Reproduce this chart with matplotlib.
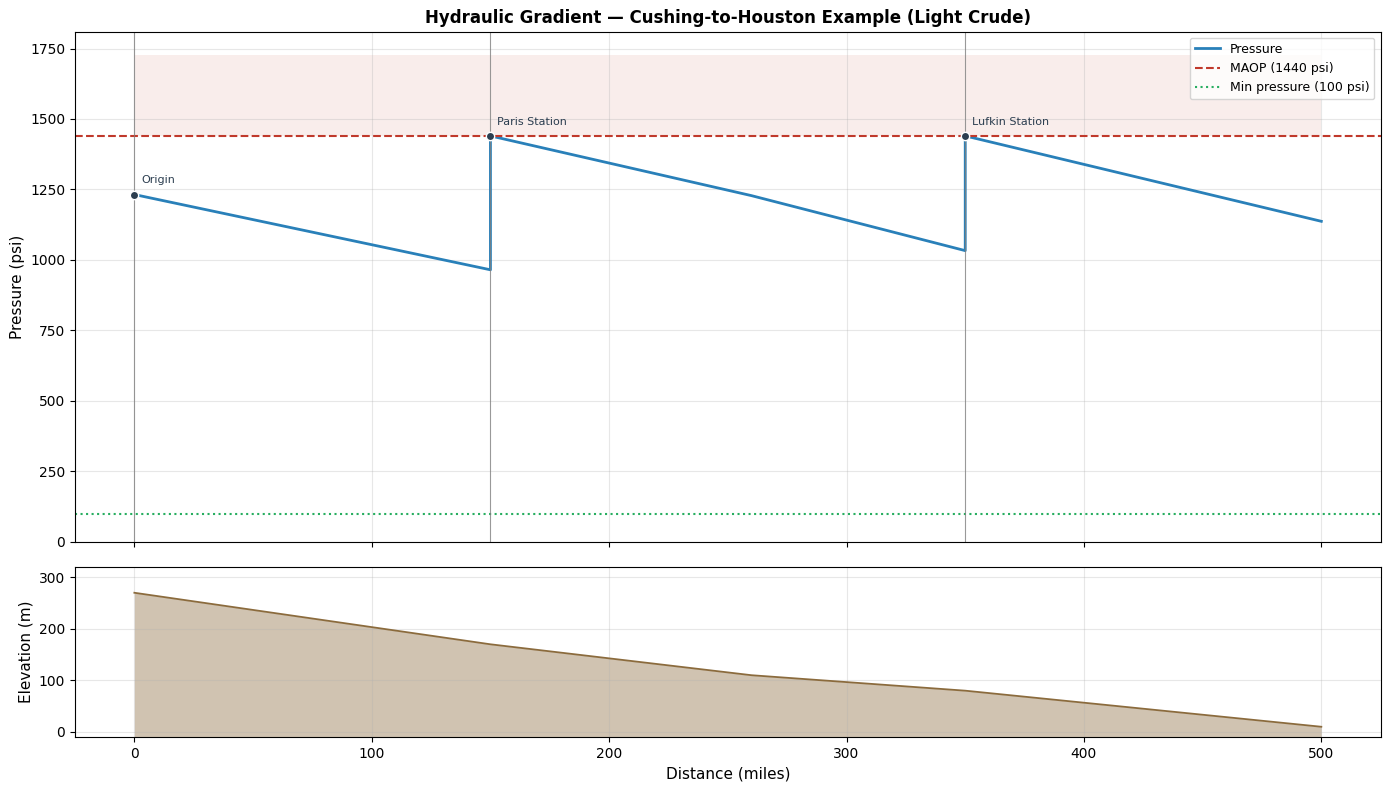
import matplotlib.pyplot as plt
import numpy as np

dist = [0, 150, 150, 260, 350, 350, 500]
pres = [1232, 965, 1440, 1228, 1033, 1440, 1137]
elev_x = [0, 150, 260, 350, 500]
elev = [270, 170, 110, 80, 10]
stations = ["Origin", "Paris Station", "Lufkin Station"]
st_x = [0, 150, 350]
st_p = [1232, 1440, 1440]
maop = 1440
minp = 100

fig, (ax, ax2) = plt.subplots(2, 1, figsize=(13.89, 7.9), dpi=100, sharex=True,
                              gridspec_kw={'height_ratios': [3, 1]})
ax.fill_between([0, 500], maop, maop * 1.2, color='#c0392b', alpha=0.09, lw=0)
ax.plot(dist, pres, color='#2980b9', lw=2, label='Pressure')
ax.axhline(maop, color='#c0392b', ls='--', lw=1.5, label='MAOP (1440 psi)')
ax.axhline(minp, color='#27ae60', ls=':', lw=1.5, label='Min pressure (100 psi)')
for name, x, p in zip(stations, st_x, st_p):
    ax.axvline(x, color='gray', lw=0.8, alpha=0.8)
    ax.plot(x, p, 'o', color='#2c3e50', ms=6, mec='white', mew=1, zorder=5)
    ax.annotate(name, (x, p), xytext=(5, 8), textcoords='offset points', fontsize=8, color='#2c3e50')
ax.set_ylim(0, 1810)
ax.set_ylabel('Pressure (psi)', fontsize=11)
ax.set_title('Hydraulic Gradient — Cushing-to-Houston Example (Light Crude)', fontsize=12, fontweight='bold')
ax.grid(alpha=0.3)
ax.legend(loc='upper right', fontsize=9)
ax.tick_params(labelbottom=False)

ax2.fill_between(elev_x, elev, -10, color='#8b6b3d', alpha=0.4, lw=0)
ax2.plot(elev_x, elev, color='#8b6b3d', lw=1.3)
ax2.set_ylim(-10, 320)
ax2.set_xlim(-25, 525)
ax2.set_ylabel('Elevation (m)', fontsize=11)
ax2.set_xlabel('Distance (miles)', fontsize=11)
ax2.grid(alpha=0.3)
fig.subplots_adjust(left=0.054, right=0.994, top=0.96, bottom=0.067, hspace=0.074)
fig.savefig('out.png')
